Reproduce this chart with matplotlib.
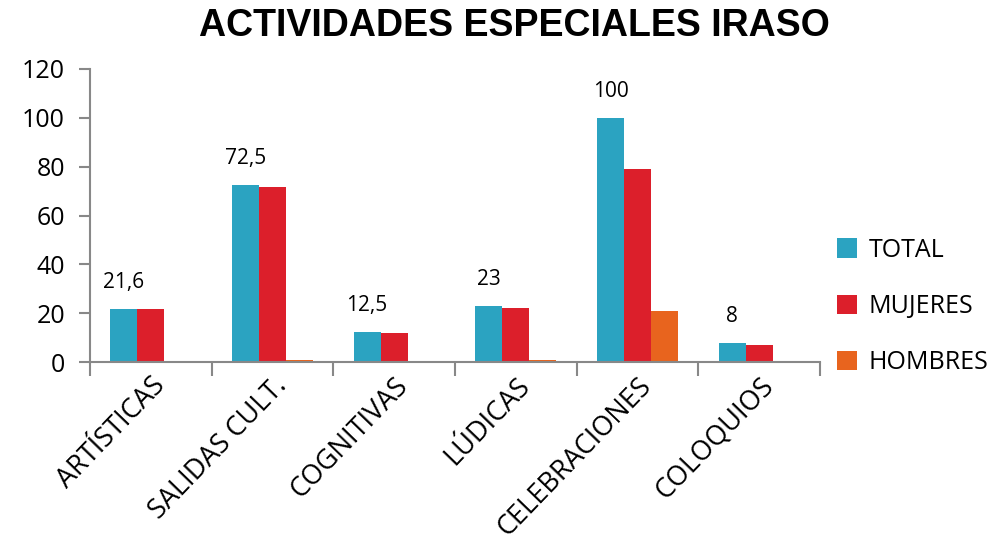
import matplotlib
matplotlib.use('Agg')
from matplotlib import pyplot as plt
import numpy as np

categorias = ['ARTÍSTICAS', 'SALIDAS CULT.', 'COGNITIVAS', 'LÚDICAS', 'CELEBRACIONES', 'COLOQUIOS']
total = [21.6, 72.5, 12.5, 23, 100, 8]
mujeres = [21.6, 71.5, 12, 22, 79, 7]
hombres = [0, 0.8, 0.5, 0.8, 21, 0.6]
etiquetas = ['21,6', '72,5', '12,5', '23', '100', '8']

colores = ['#2BA3C1', '#DC1F2B', '#E8641E']

plt.rcParams['font.family'] = ['Open Sans', 'DejaVu Sans']

fig = plt.figure(figsize=(10, 5.47), dpi=100)
ax = fig.add_axes([0.09, 0.338, 0.73, 0.536])

x = np.arange(len(categorias))
w = 0.222
ax.bar(x - w, total, w, color=colores[0], label='TOTAL')
ax.bar(x, mujeres, w, color=colores[1], label='MUJERES')
ax.bar(x + w, hombres, w, color=colores[2], label='HOMBRES')

for xi, v, t in zip(x, total, etiquetas):
    ax.text(xi - w, v + 6.5, t, ha='center', va='bottom', fontsize=15)

ax.set_xlim(-0.5, len(categorias) - 0.5)
ax.set_ylim(0, 120)
ax.set_yticks(range(0, 121, 20))
ax.tick_params(axis='y', labelsize=18, length=8, color='#888888', width=1.5, pad=10)

ax.set_xticks(np.arange(-0.5, len(categorias), 1))
ax.set_xticklabels([])
ax.set_xticks(x, minor=True)
ax.set_xticklabels(categorias, minor=True, rotation=46, ha='right',
                   rotation_mode='anchor', fontsize=19.5)
ax.tick_params(axis='x', which='major', length=10, color='#888888', width=1.5)
ax.tick_params(axis='x', which='minor', length=0, pad=7)

for s in ['top', 'right']:
    ax.spines[s].set_visible(False)
for s in ['left', 'bottom']:
    ax.spines[s].set_color('#888888')
    ax.spines[s].set_linewidth(1.5)

fig.suptitle('ACTIVIDADES ESPECIALES IRASO', x=0.514, y=0.985,
             fontsize=27, fontweight='bold', family='Liberation Sans')

ax.legend(loc='center left', bbox_to_anchor=(0.993, 0.19), frameon=False,
          fontsize=18, handlelength=0.8, handleheight=0.8, handletextpad=0.45,
          labelspacing=1.25)

plt.savefig('out.png')
